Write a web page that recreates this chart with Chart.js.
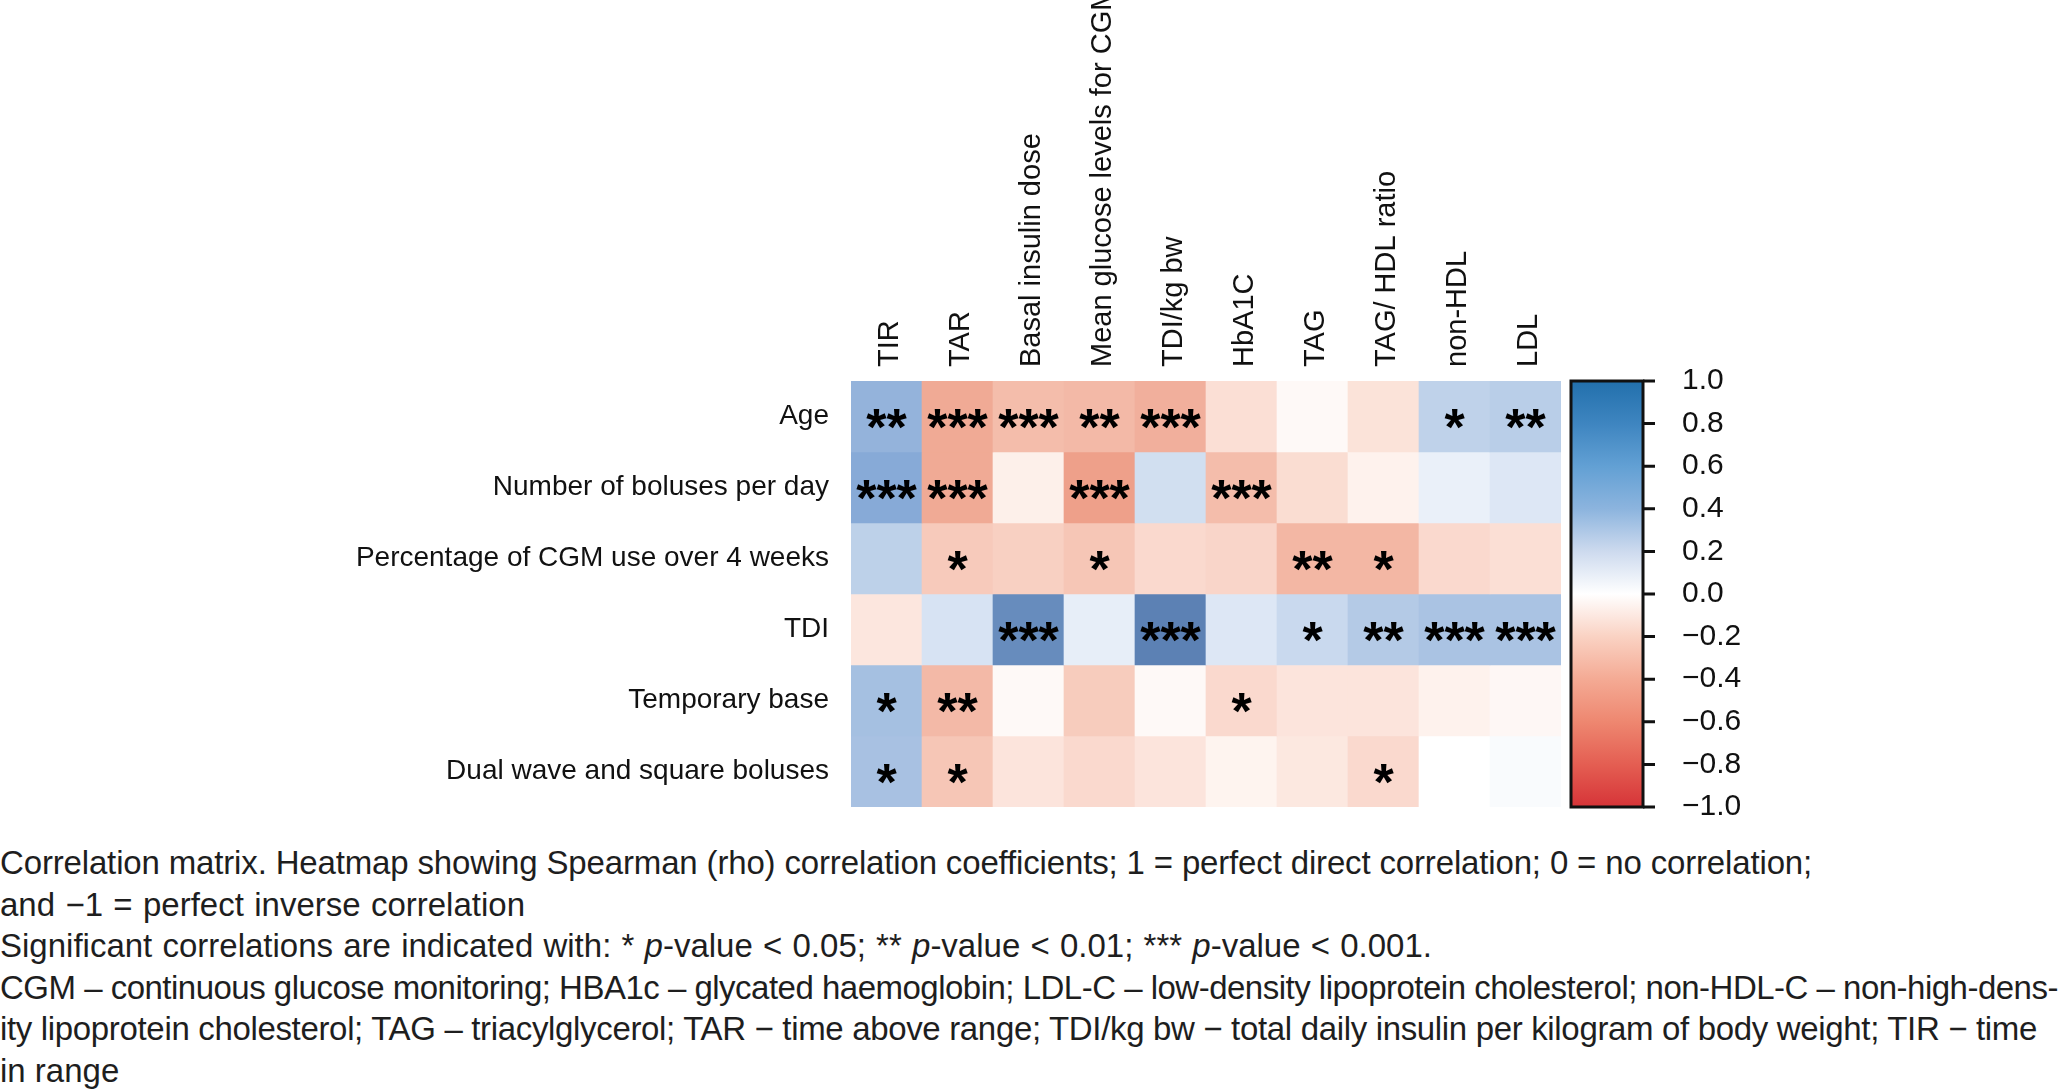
<!DOCTYPE html>
<html>
<head>
<meta charset="utf-8">
<script src="https://cdn.jsdelivr.net/npm/chart.js@4.4.1/dist/chart.umd.min.js"></script>
<style>
  html, body { margin: 0; padding: 0; background: #ffffff; }
  body { width: 2060px; height: 1089px; position: relative; overflow: hidden; }
  #wrap { position: absolute; left: 0; top: 0; width: 2060px; height: 830px; }
  #caption { position: absolute; left: 0; top: 842px; width: 2060px;
    font-family: 'Liberation Sans', Arial, sans-serif; font-size: 33px; line-height: 41.6px; color: #1e1e1e; }
  #caption div { white-space: nowrap; }
  #caption span { display: inline-block; white-space: nowrap; }
</style>
</head>
<body>
<div id="wrap"><canvas id="c" width="2060" height="830"></canvas></div>
<div id="caption">
  <div><span data-w="1812">Correlation matrix. Heatmap showing Spearman (rho) correlation coefficients; 1 = perfect direct correlation; 0 = no correlation;</span></div>
  <div><span data-w="525">and −1 = perfect inverse correlation</span></div>
  <div><span data-w="1432">Significant correlations are indicated with: * <i>p</i>-value &lt; 0.05; ** <i>p</i>-value &lt; 0.01; *** <i>p</i>-value &lt; 0.001.</span></div>
  <div><span data-w="2058">CGM – continuous glucose monitoring; HBA1c – glycated haemoglobin; LDL-C – low-density lipoprotein cholesterol; non-HDL-C – non-high-dens-</span></div>
  <div><span data-w="2037">ity lipoprotein cholesterol; TAG – triacylglycerol; TAR − time above range; TDI/kg bw − total daily insulin per kilogram of body weight; TIR − time</span></div>
  <div><span>in range</span></div>
</div>
<script>
// ---- data ----
const columns = ['TIR', 'TAR', 'Basal insulin dose', 'Mean glucose levels for CGM', 'TDI/kg bw', 'HbA1C', 'TAG', 'TAG/ HDL ratio', 'non-HDL', 'LDL'];
const rows = ['Age', 'Number of boluses per day', 'Percentage of CGM use over 4 weeks', 'TDI', 'Temporary base', 'Dual wave and square boluses'];

const rhoAge      = [0.45, -0.45, -0.35, -0.37, -0.42, -0.17, -0.03, -0.15, 0.27, 0.30];
const rhoBoluses  = [0.50, -0.45, -0.08, -0.50, 0.18, -0.35, -0.18, -0.07, 0.07, 0.12];
const rhoCGMUse   = [0.28, -0.28, -0.25, -0.30, -0.20, -0.22, -0.38, -0.38, -0.20, -0.17];
const rhoTDI      = [-0.13, 0.15, 0.70, 0.08, 0.78, 0.12, 0.22, 0.32, 0.36, 0.36];
const rhoTempBase = [0.38, -0.37, -0.03, -0.27, -0.03, -0.20, -0.14, -0.14, -0.07, -0.04];
const rhoDualWave = [0.37, -0.30, -0.14, -0.20, -0.14, -0.06, -0.12, -0.20, 0.00, 0.02];

const sigAge      = ['**', '***', '***', '**', '***', '', '', '', '*', '**'];
const sigBoluses  = ['***', '***', '', '***', '', '***', '', '', '', ''];
const sigCGMUse   = ['', '*', '', '*', '', '', '**', '*', '', ''];
const sigTDI      = ['', '', '***', '', '***', '', '*', '**', '***', '***'];
const sigTempBase = ['*', '**', '', '', '', '*', '', '', '', ''];
const sigDualWave = ['*', '*', '', '', '', '', '', '*', '', ''];

const colorbarTicks = [-1, -0.8, -0.6, -0.4, -0.2, 0, 0.2, 0.4, 0.6, 0.8, 1];

const rhoRows = [rhoAge, rhoBoluses, rhoCGMUse, rhoTDI, rhoTempBase, rhoDualWave];
const sigRows = [sigAge, sigBoluses, sigCGMUse, sigTDI, sigTempBase, sigDualWave];

// ---- colour maps ----
const cellStops = [
  [-1.0, [215, 60, 60]],
  [-0.5, [238, 160, 138]],
  [-0.3, [246, 198, 182]],
  [-0.1, [253, 236, 229]],
  [0.0, [255, 255, 255]],
  [0.1, [225, 234, 246]],
  [0.3, [185, 206, 232]],
  [0.5, [135, 170, 215]],
  [0.75, [95, 132, 182]],
  [1.0, [70, 105, 165]]
];
const barStops = [
  [-1.0, [214, 52, 56]],
  [-0.8, [228, 94, 82]],
  [-0.6, [238, 135, 112]],
  [-0.4, [244, 170, 148]],
  [-0.2, [250, 210, 195]],
  [0.0, [255, 255, 255]],
  [0.2, [205, 218, 238]],
  [0.4, [140, 180, 222]],
  [0.6, [98, 160, 212]],
  [0.8, [62, 133, 192]],
  [1.0, [34, 112, 172]]
];
function interp(stops, v) {
  if (v <= stops[0][0]) return stops[0][1];
  for (let i = 1; i < stops.length; i++) {
    if (v <= stops[i][0]) {
      const [a, ca] = stops[i - 1], [b, cb] = stops[i];
      const t = (v - a) / (b - a);
      return ca.map((x, k) => Math.round(x + (cb[k] - x) * t));
    }
  }
  return stops[stops.length - 1][1];
}
const rgb = c => `rgb(${c[0]},${c[1]},${c[2]})`;

const FONT = "'Liberation Sans', Arial, sans-serif";

const datasets = rows.map((r, ri) => ({
  label: r,
  data: columns.map(() => [ri, ri + 1]),
  backgroundColor: rhoRows[ri].map(v => rgb(interp(cellStops, v))),
  borderWidth: 0,
  borderSkipped: false,
  barPercentage: 1.0,
  categoryPercentage: 1.0,
  grouped: false
}));

const starsPlugin = {
  id: 'stars',
  afterDatasetsDraw(chart) {
    const { ctx } = chart;
    const xs = chart.scales.x, ys = chart.scales.y;
    ctx.save();
    ctx.fillStyle = '#000';
    ctx.font = "bold 52px 'Liberation Sans', Arial, sans-serif";
    ctx.textAlign = 'center';
    ctx.textBaseline = 'alphabetic';
    const m = ctx.measureText('*');
    const off = (m.actualBoundingBoxAscent - m.actualBoundingBoxDescent) / 2;
    sigRows.forEach((sr, ri) => sr.forEach((s, ci) => {
      if (!s) return;
      const x = xs.getPixelForValue(ci);
      const y = ys.getPixelForValue(ri + 0.5);
      ctx.fillText(s, x, y + off + 2);
    }));
    ctx.restore();
  }
};

const colorbarPlugin = {
  id: 'colorbar',
  afterDraw(chart) {
    const { ctx, chartArea } = chart;
    const s = chart.scales.y2;
    const top = s.getPixelForValue(1), bot = s.getPixelForValue(-1);
    const x0 = chartArea.right + 10, w = 72;
    const g = ctx.createLinearGradient(0, bot, 0, top);
    barStops.forEach(([v, c]) => g.addColorStop((v + 1) / 2, rgb(c)));
    ctx.save();
    ctx.fillStyle = g;
    ctx.fillRect(x0, top, w, bot - top);
    ctx.strokeStyle = '#111';
    ctx.lineWidth = 3;
    ctx.strokeRect(x0, top, w, bot - top);
    ctx.beginPath();
    colorbarTicks.forEach(v => {
      const y = s.getPixelForValue(v);
      ctx.moveTo(x0 + w, y);
      ctx.lineTo(x0 + w + 12, y);
    });
    ctx.stroke();
    ctx.restore();
  }
};

new Chart(document.getElementById('c'), {
  type: 'bar',
  data: { labels: columns, datasets },
  options: {
    responsive: false,
    animation: false,
    devicePixelRatio: 1,
    layout: { padding: { left: 0, right: 0, top: 0, bottom: 23 } },
    plugins: { legend: { display: false }, tooltip: { enabled: false }, title: { display: false } },
    scales: {
      x: {
        type: 'category',
        position: 'top',
        offset: true,
        grid: { display: false, drawTicks: false },
        border: { display: false },
        ticks: {
          autoSkip: false, minRotation: 90, maxRotation: 90, padding: 14, labelOffset: 38,
          color: '#111', font: { family: FONT, size: 29 }
        },
        afterFit(s) { s.height = 381; s.paddingLeft = 0; s.paddingRight = 0; }
      },
      y: {
        type: 'linear',
        position: 'left',
        min: 0, max: 6, reverse: true,
        grid: { display: false, drawTicks: false },
        border: { display: false },
        afterBuildTicks(s) { s.ticks = rows.map((r, i) => ({ value: i + 0.5 })); },
        ticks: {
          autoSkip: false, padding: 22, color: '#111', font: { family: FONT, size: 28 },
          callback(v) { return rows[Math.round(v - 0.5)]; }
        },
        afterFit(s) { s.width = 851; s.paddingTop = 0; s.paddingBottom = 0; }
      },
      y2: {
        type: 'linear',
        position: 'right',
        min: -1, max: 1,
        grid: { display: false, drawTicks: false },
        border: { display: false },
        afterBuildTicks(s) { s.ticks = colorbarTicks.map(v => ({ value: v })); },
        ticks: {
          autoSkip: false, padding: 121, color: '#111', font: { family: FONT, size: 30 },
          callback(v) { const t = Math.abs(v).toFixed(1); return v < -1e-9 ? '\u2212' + t : t; }
        },
        afterFit(s) { s.width = 499; s.paddingTop = 0; s.paddingBottom = 0; }
      }
    }
  },
  plugins: [starsPlugin, colorbarPlugin]
});

// fit caption lines to the widths measured on the reference
document.querySelectorAll('#caption span[data-w]').forEach(sp => {
  const target = parseFloat(sp.dataset.w);
  const natural = sp.getBoundingClientRect().width;
  const text = sp.textContent;
  const spaces = (text.match(/ /g) || []).length;
  if (target >= natural) {
    if (spaces > 0) sp.style.wordSpacing = ((target - natural) / spaces).toFixed(2) + 'px';
  } else {
    sp.style.letterSpacing = ((target - natural) / text.length).toFixed(3) + 'px';
  }
});
</script>
</body>
</html>
